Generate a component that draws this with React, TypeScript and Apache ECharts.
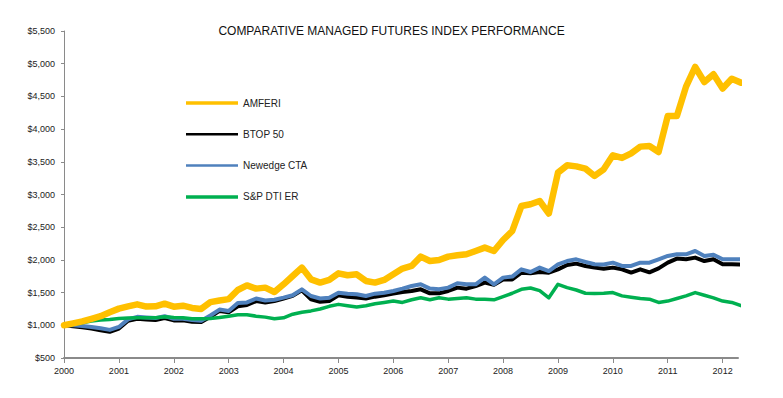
import React, { useEffect, useRef } from "react";
import * as echarts from "echarts";

const months = [
  "2000-01", "2000-03", "2000-05", "2000-07", "2000-09", "2000-11",
  "2001-01", "2001-03", "2001-05", "2001-07", "2001-09", "2001-11",
  "2002-01", "2002-03", "2002-05", "2002-07", "2002-09", "2002-11",
  "2003-01", "2003-03", "2003-05", "2003-07", "2003-09", "2003-11",
  "2004-01", "2004-03", "2004-05", "2004-07", "2004-09", "2004-11",
  "2005-01", "2005-03", "2005-05", "2005-07", "2005-09", "2005-11",
  "2006-01", "2006-03", "2006-05", "2006-07", "2006-09", "2006-11",
  "2007-01", "2007-03", "2007-05", "2007-07", "2007-09", "2007-11",
  "2008-01", "2008-03", "2008-05", "2008-07", "2008-09", "2008-11",
  "2009-01", "2009-03", "2009-05", "2009-07", "2009-09", "2009-11",
  "2010-01", "2010-03", "2010-05", "2010-07", "2010-09", "2010-11",
  "2011-01", "2011-03", "2011-05", "2011-07", "2011-09", "2011-11",
  "2012-01", "2012-03", "2012-05",
];

const amferi = [
  1000, 1030, 1060, 1100, 1140, 1200,
  1255, 1290, 1320, 1286, 1290, 1330,
  1285, 1300, 1265, 1250, 1355, 1380,
  1400, 1540, 1610, 1561, 1576, 1510,
  1627, 1754, 1882, 1703, 1653, 1693,
  1795, 1765, 1780, 1678, 1653, 1693,
  1780, 1867, 1907, 2050, 1983, 1999,
  2050, 2070, 2086, 2136, 2188, 2136,
  2305, 2442, 2824, 2850, 2900, 2710,
  3335, 3446, 3430, 3396, 3283, 3385,
  3600, 3560, 3630, 3732, 3742, 3650,
  4200, 4200, 4650, 4950, 4720, 4838,
  4620, 4770, 4710,
];

const btop50 = [
  1000, 985, 970, 950, 925, 900,
  950, 1070, 1100, 1090, 1080, 1110,
  1075, 1075, 1055, 1050, 1130, 1220,
  1200, 1290, 1310, 1370, 1350, 1370,
  1410, 1450, 1535, 1397, 1360, 1372,
  1458, 1438, 1423, 1410, 1438, 1458,
  1484, 1509, 1525, 1550, 1489, 1489,
  1525, 1576, 1560, 1600, 1653, 1620,
  1700, 1700, 1805, 1795, 1815, 1805,
  1856, 1922, 1943, 1907, 1882, 1866,
  1882, 1856, 1806, 1856, 1810, 1870,
  1958, 2020, 2010, 2035, 1983, 2010,
  1933, 1933, 1930,
];

const newedgeCta = [
  1000, 1000, 990, 975, 955, 930,
  975, 1090, 1130, 1120, 1110, 1140,
  1100, 1100, 1080, 1070, 1150, 1240,
  1220, 1340, 1350, 1410, 1380, 1390,
  1423, 1460, 1550, 1448, 1410, 1423,
  1499, 1484, 1474, 1448, 1484, 1499,
  1525, 1560, 1601, 1627, 1561, 1550,
  1576, 1642, 1627, 1627, 1729, 1627,
  1729, 1745, 1856, 1815, 1882, 1830,
  1933, 1983, 2009, 1970, 1933, 1930,
  1958, 1907, 1907, 1958, 1958, 2009,
  2060, 2086, 2086, 2136, 2060, 2080,
  2009, 2010, 2010,
];

const spDtiEr = [
  1000, 1010, 1040, 1065, 1080, 1090,
  1105, 1110, 1115, 1115, 1115, 1130,
  1120, 1115, 1100, 1100, 1105, 1120,
  1140, 1160, 1160, 1140, 1125, 1100,
  1115, 1170, 1200, 1220, 1250, 1290,
  1320, 1300, 1280, 1300, 1330, 1350,
  1370, 1350, 1390, 1420, 1390, 1420,
  1400, 1410, 1420, 1400, 1400, 1390,
  1440, 1490, 1550, 1570, 1530, 1420,
  1627, 1576, 1540, 1490, 1485, 1490,
  1500, 1450, 1430, 1410, 1400, 1350,
  1370, 1410, 1450, 1500, 1460, 1420,
  1370, 1350, 1300,
];

const yearTicks = [2000, 2001, 2002, 2003, 2004, 2005, 2006, 2007, 2008, 2009, 2010, 2011, 2012];
const seriesNames = ["AMFERI", "BTOP 50", "Newedge CTA", "S&P DTI ER"];
const seriesColors = ["#FFC000", "#000000", "#4F81BD", "#00B050"];
const titleText = "COMPARATIVE MANAGED FUTURES INDEX PERFORMANCE";

const FONT = "'Liberation Sans', Arial, sans-serif";

function toYear(s: string): number {
  const [y, m] = s.split("-").map(Number);
  return y + (m - 1) / 12;
}

export default function App() {
  const ref = useRef<HTMLDivElement>(null);

  useEffect(() => {
    if (!ref.current) return;
    const chart = echarts.init(ref.current, null, { renderer: "svg" });
    const pts = (vals: number[]) => months.map((d, i) => [toYear(d), vals[i]]);
    const mk = (name: string, vals: number[], color: string, width: number) => ({
      name,
      type: "line",
      data: pts(vals),
      symbol: "none",
      clip: false,
      color,
      itemStyle: { color },
      lineStyle: { color, width, cap: "round", join: "round" },
    });

    // legend drawn as graphic: sample line + label for each series
    const legendLeft = 186;
    const legendTop = 103;
    const legendStep = 31.3;
    const legendWidths = [3.5, 2.5, 2.5, 3.5];
    const legendEls: any[] = [];
    seriesNames.forEach((name, i) => {
      const y = legendTop + i * legendStep;
      legendEls.push({
        type: "line",
        shape: { x1: legendLeft, y1: y, x2: legendLeft + 52, y2: y },
        style: { stroke: seriesColors[i], lineWidth: legendWidths[i] },
        silent: true,
      });
      legendEls.push({
        type: "text",
        x: legendLeft + 57,
        y,
        style: {
          text: name,
          fontFamily: FONT,
          fontSize: 10,
          fill: "#222",
          verticalAlign: "middle",
          align: "left",
        },
        silent: true,
      });
    });

    chart.setOption({
      animation: false,
      backgroundColor: "#ffffff",
      textStyle: { fontFamily: FONT },
      title: {
        text: titleText,
        left: "center",
        top: 20,
        textStyle: { fontFamily: FONT, fontSize: 12, fontWeight: "normal", color: "#111" },
      },
      graphic: legendEls,
      grid: { left: 64, right: 45, top: 31, bottom: 40 },
      xAxis: {
        type: "value",
        min: 2000,
        max: 2012.28,
        interval: 1,
        axisLine: { show: true, lineStyle: { color: "#8a8a8a", width: 2 } },
        axisTick: { show: true, length: 5, customValues: yearTicks, lineStyle: { color: "#8a8a8a" } },
        axisLabel: {
          customValues: yearTicks,
          fontFamily: FONT,
          fontSize: 9,
          margin: 8,
          color: "#222",
          formatter: (v: number) => (Number.isInteger(v) ? String(v) : ""),
        },
        splitLine: { show: false },
      },
      yAxis: {
        type: "value",
        min: 500,
        max: 5500,
        interval: 500,
        axisLine: { show: true, lineStyle: { color: "#8a8a8a", width: 1 } },
        axisTick: { show: true, length: 3, lineStyle: { color: "#8a8a8a" } },
        axisLabel: {
          fontFamily: FONT,
          fontSize: 9,
          margin: 9,
          color: "#222",
          formatter: (v: number) => "$" + v.toLocaleString("en-US"),
        },
        splitLine: { show: false },
      },
      series: [
        mk(seriesNames[1], btop50, seriesColors[1], 4),
        mk(seriesNames[2], newedgeCta, seriesColors[2], 4),
        mk(seriesNames[3], spDtiEr, seriesColors[3], 3.5),
        mk(seriesNames[0], amferi, seriesColors[0], 6.5),
      ],
    });

    return () => chart.dispose();
  }, []);

  return (
    <div
      ref={ref}
      style={{ position: "absolute", left: 0, top: 0, width: 783, height: 398 }}
    />
  );
}
